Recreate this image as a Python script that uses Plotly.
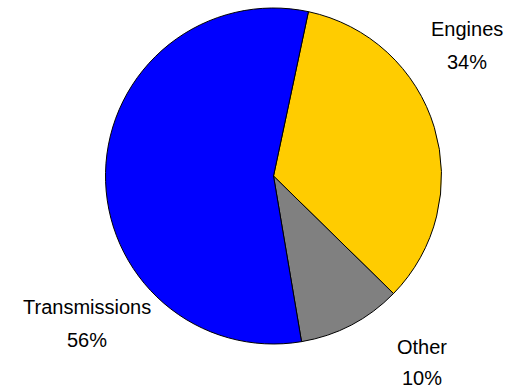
import plotly.graph_objects as go

labels = ["Engines", "Other", "Transmissions"]
values = [34, 10, 56]
colors = ["#FFCC00", "#808080", "#0000FF"]

# label positions in pixels (centers of each line): name line, percent line
W, H = 507, 391
label_pos = {
    "Engines": (467, 29, 62),
    "Other": (422, 347, 378),
    "Transmissions": (87, 307, 340),
}

fig = go.Figure(go.Pie(
    labels=labels, values=values, sort=False, direction="clockwise",
    rotation=12, marker=dict(colors=colors, line=dict(color="black", width=1)),
    textinfo="none", hoverinfo="label+percent", showlegend=False,
    domain=dict(x=[105 / W, 442 / W], y=[1 - 344 / H, 1 - 8 / H]),
))

font = dict(family="Liberation Sans, Arial, sans-serif", size=20, color="black")
total = sum(values)
anns = []
for lab, val in zip(labels, values):
    x, y1, y2 = label_pos[lab]
    anns.append(dict(text=lab, x=x / W, y=1 - y1 / H, xref="paper", yref="paper",
                     showarrow=False, xanchor="center", yanchor="middle", font=font))
    anns.append(dict(text=f"{round(100 * val / total)}%", x=x / W, y=1 - y2 / H,
                     xref="paper", yref="paper", showarrow=False,
                     xanchor="center", yanchor="middle", font=font))

fig.update_layout(width=W, height=H, margin=dict(l=0, r=0, t=0, b=0),
                  paper_bgcolor="white", plot_bgcolor="white", annotations=anns)
fig.write_html("out.html")
